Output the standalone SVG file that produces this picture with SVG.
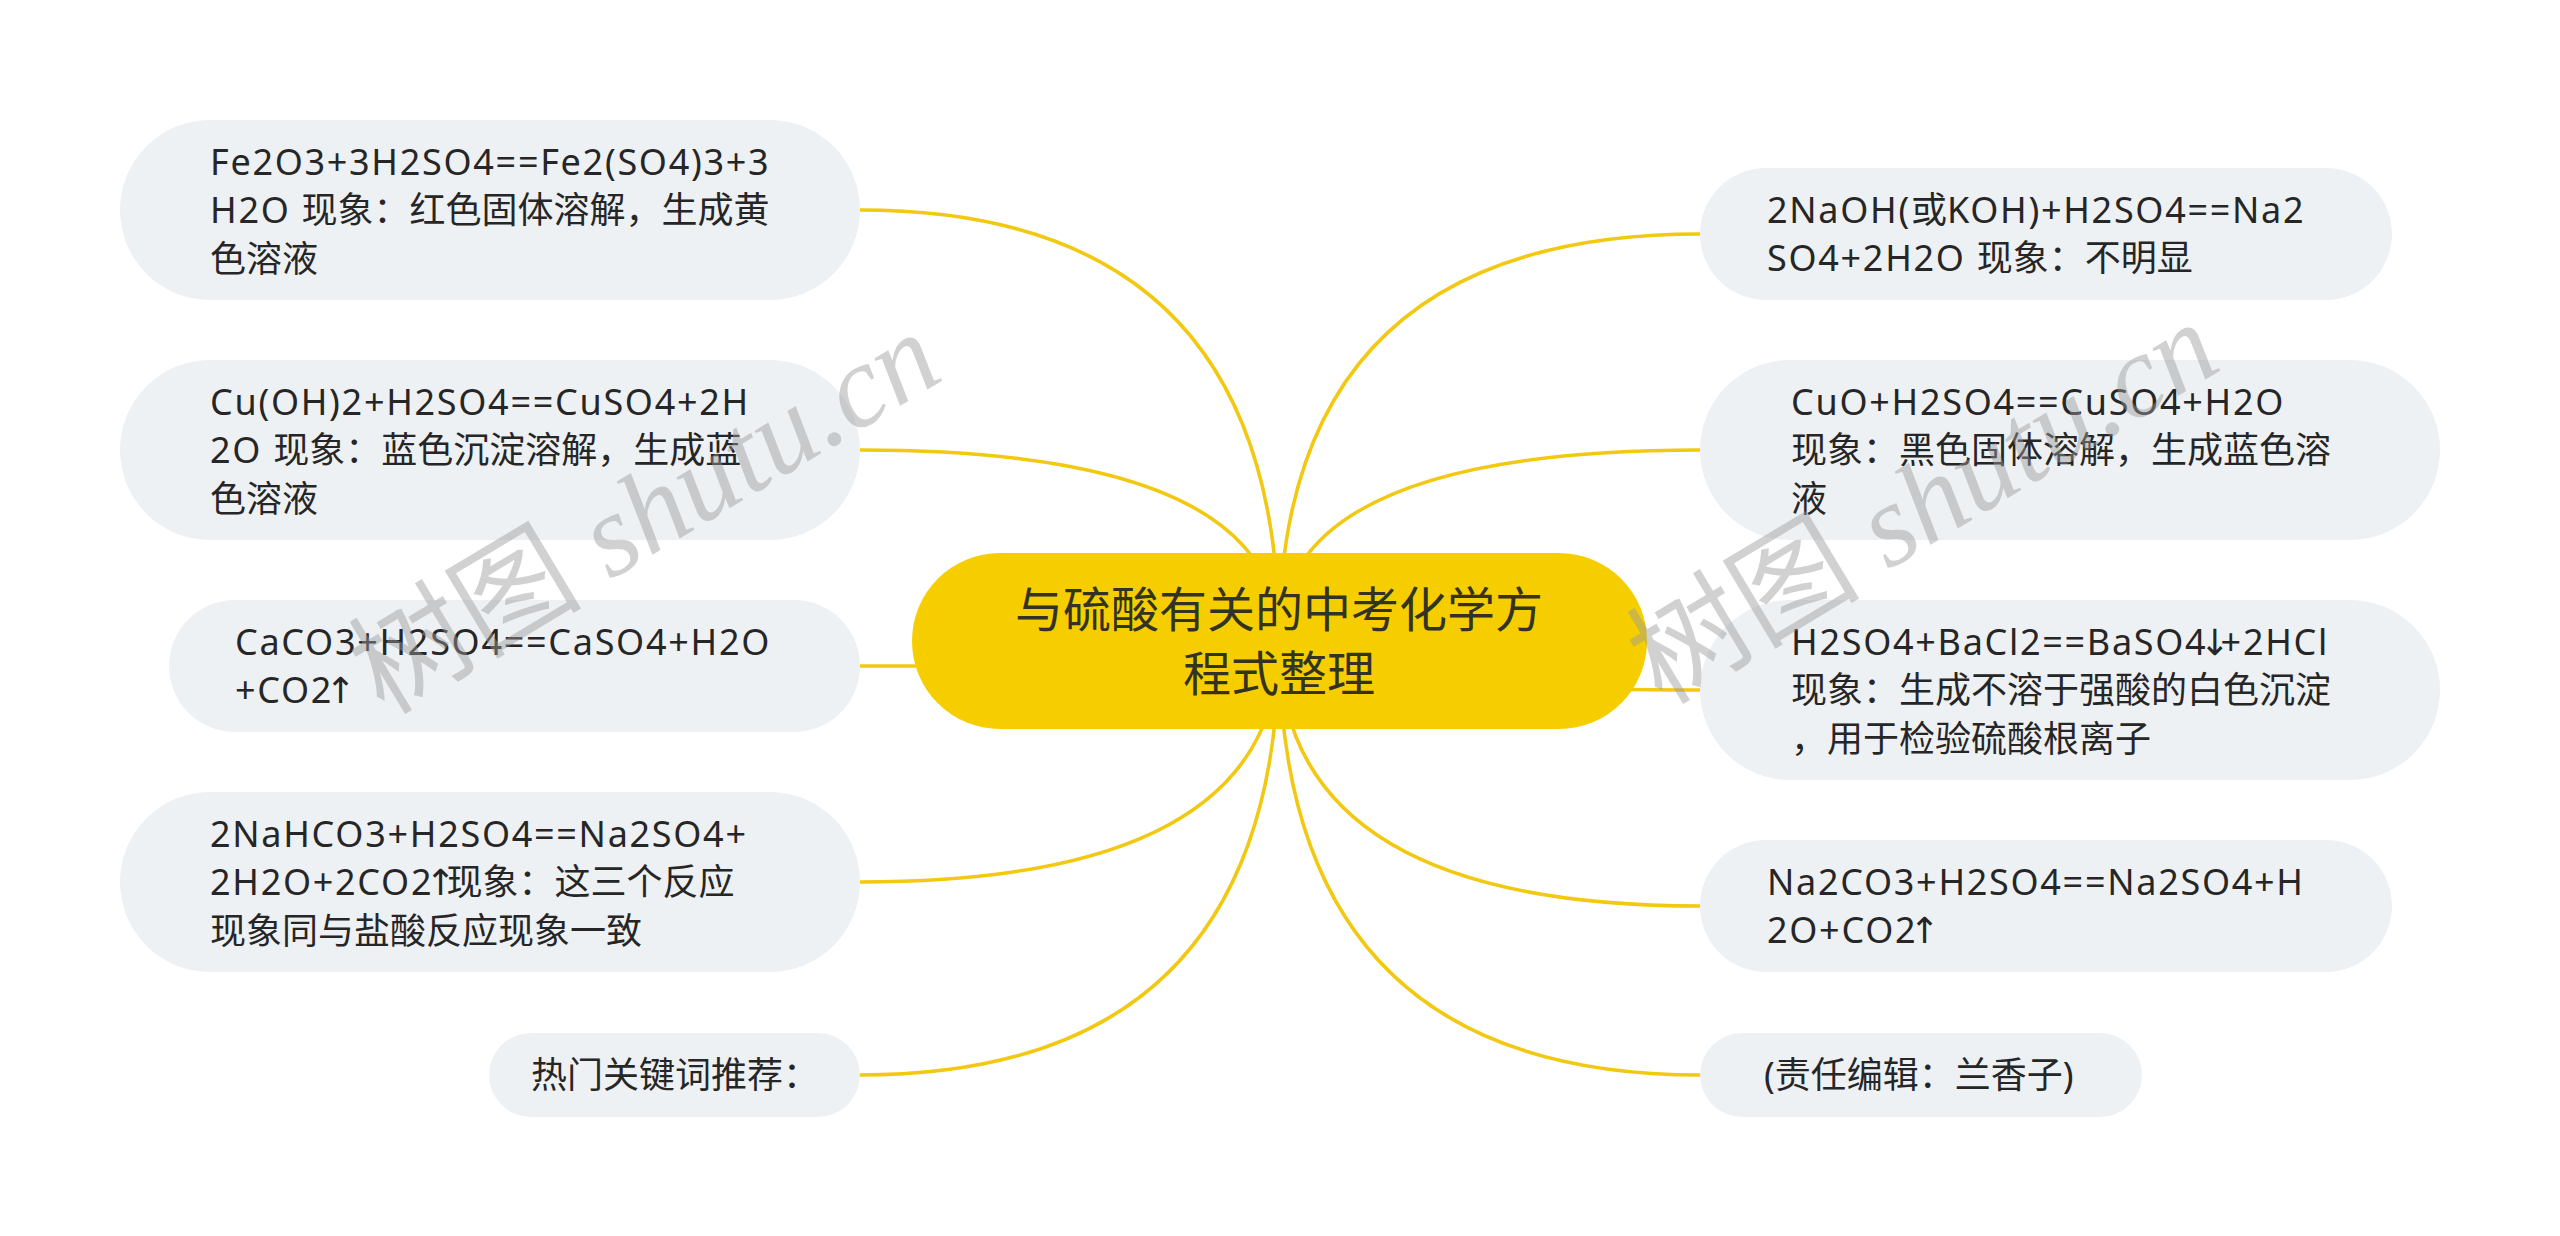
<svg xmlns="http://www.w3.org/2000/svg" width="2560" height="1236" viewBox="0 0 2560 1236">
<style>
.bg{fill:#ffffff}
.node{fill:#EEF1F4}
.root{fill:#F6CE00}
.t{font-family:"Noto Sans","Noto Sans CJK SC",sans-serif;font-size:36px;fill:#262626}
.l{letter-spacing:1.7px}
.ar{font-family:"DejaVu Sans","Noto Sans CJK SC",sans-serif;letter-spacing:-9px}
.rt{font-family:"Noto Sans CJK SC","Noto Sans",sans-serif;font-size:48px;fill:#333322;text-anchor:middle}
.link{fill:none;stroke:#F2C811;stroke-width:3.5;stroke-linecap:round}
.wm{font-family:"Liberation Serif","Noto Sans CJK SC",serif;font-size:117px;fill:#9a9a9a;opacity:0.45}
</style>
<rect class="bg" x="0" y="0" width="2560" height="1236"/>
<g id="connectors">
<path class="link" d="M1279 641 Q1279 210 860 210"/>
<path class="link" d="M1279 641 Q1279 450 860 450"/>
<path class="link" d="M1279 641 Q1279 666 860 666"/>
<path class="link" d="M1279 641 Q1279 882 860 882"/>
<path class="link" d="M1279 641 Q1279 1075 860 1075"/>
<path class="link" d="M1279 641 Q1279 234 1700 234"/>
<path class="link" d="M1279 641 Q1279 450 1700 450"/>
<path class="link" d="M1279 641 Q1279 690 1700 690"/>
<path class="link" d="M1279 641 Q1279 906 1700 906"/>
<path class="link" d="M1279 641 Q1279 1075 1700 1075"/>
</g>
<g id="root">
<rect class="root" x="912" y="553" width="735" height="176" rx="88"/>
<text class="rt" x="1279" y="627">与硫酸有关的中考化学方</text>
<text class="rt" x="1279" y="691">程式整理</text>
</g>
<g id="L1">
<rect class="node" x="120" y="120" width="740" height="180" rx="90"/>
<text class="t l" x="210" y="175">Fe2O3+3H2SO4==Fe2(SO4)3+3</text>
<text class="t" x="210" y="223"><tspan class="l">H2O </tspan>现象：红色固体溶解，生成黄</text>
<text class="t" x="210" y="272">色溶液</text>
</g>
<g id="L2">
<rect class="node" x="120" y="360" width="740" height="180" rx="90"/>
<text class="t l" x="210" y="415">Cu(OH)2+H2SO4==CuSO4+2H</text>
<text class="t" x="210" y="463"><tspan class="l">2O </tspan>现象：蓝色沉淀溶解，生成蓝</text>
<text class="t" x="210" y="512">色溶液</text>
</g>
<g id="L3">
<rect class="node" x="169" y="600" width="691" height="132" rx="66"/>
<text class="t l" x="235" y="655">CaCO3+H2SO4==CaSO4+H2O</text>
<text class="t l" x="235" y="703">+CO2<tspan class="ar" dx="-8">↑</tspan></text>
</g>
<g id="L4">
<rect class="node" x="120" y="792" width="740" height="180" rx="90"/>
<text class="t l" x="210" y="847">2NaHCO3+H2SO4==Na2SO4+</text>
<text class="t" x="210" y="895"><tspan class="l">2H2O+2CO2</tspan><tspan class="ar" dx="-8">↑</tspan>现象：这三个反应</text>
<text class="t" x="210" y="944">现象同与盐酸反应现象一致</text>
</g>
<g id="L5">
<rect class="node" x="489" y="1033" width="371" height="84" rx="42"/>
<text class="t" x="531" y="1088">热门关键词推荐：</text>
</g>
<g id="R1">
<rect class="node" x="1700" y="168" width="692" height="132" rx="66"/>
<text class="t" x="1767" y="223"><tspan class="l">2NaOH(</tspan>或<tspan class="l">KOH)+H2SO4==Na2</tspan></text>
<text class="t" x="1767" y="271"><tspan class="l">SO4+2H2O </tspan>现象：不明显</text>
</g>
<g id="R2">
<rect class="node" x="1700" y="360" width="740" height="180" rx="90"/>
<text class="t l" x="1791" y="415">CuO+H2SO4==CuSO4+H2O</text>
<text class="t" x="1791" y="463">现象：黑色固体溶解，生成蓝色溶</text>
<text class="t" x="1791" y="512">液</text>
</g>
<g id="R3">
<rect class="node" x="1700" y="600" width="740" height="180" rx="90"/>
<text class="t l" x="1791" y="655">H2SO4+BaCl2==BaSO4<tspan class="ar" dx="-8">↓</tspan><tspan class="l">+2HCl</tspan></text>
<text class="t" x="1791" y="703">现象：生成不溶于强酸的白色沉淀</text>
<text class="t" x="1791" y="752">，用于检验硫酸根离子</text>
</g>
<g id="R4">
<rect class="node" x="1700" y="840" width="692" height="132" rx="66"/>
<text class="t l" x="1767" y="895">Na2CO3+H2SO4==Na2SO4+H</text>
<text class="t l" x="1767" y="943">2O+CO2<tspan class="ar" dx="-8">↑</tspan></text>
</g>
<g id="R5">
<rect class="node" x="1700" y="1033" width="442" height="84" rx="42"/>
<text class="t" x="1764" y="1088">(责任编辑：兰香子)</text>
</g>
<g id="watermark">
<text class="wm" transform="translate(384 716) rotate(-31)">树图 <tspan font-style="italic">shutu.cn</tspan></text>
<text class="wm" transform="translate(1662 706) rotate(-31)">树图 <tspan font-style="italic">shutu.cn</tspan></text>
</g>
</svg>
